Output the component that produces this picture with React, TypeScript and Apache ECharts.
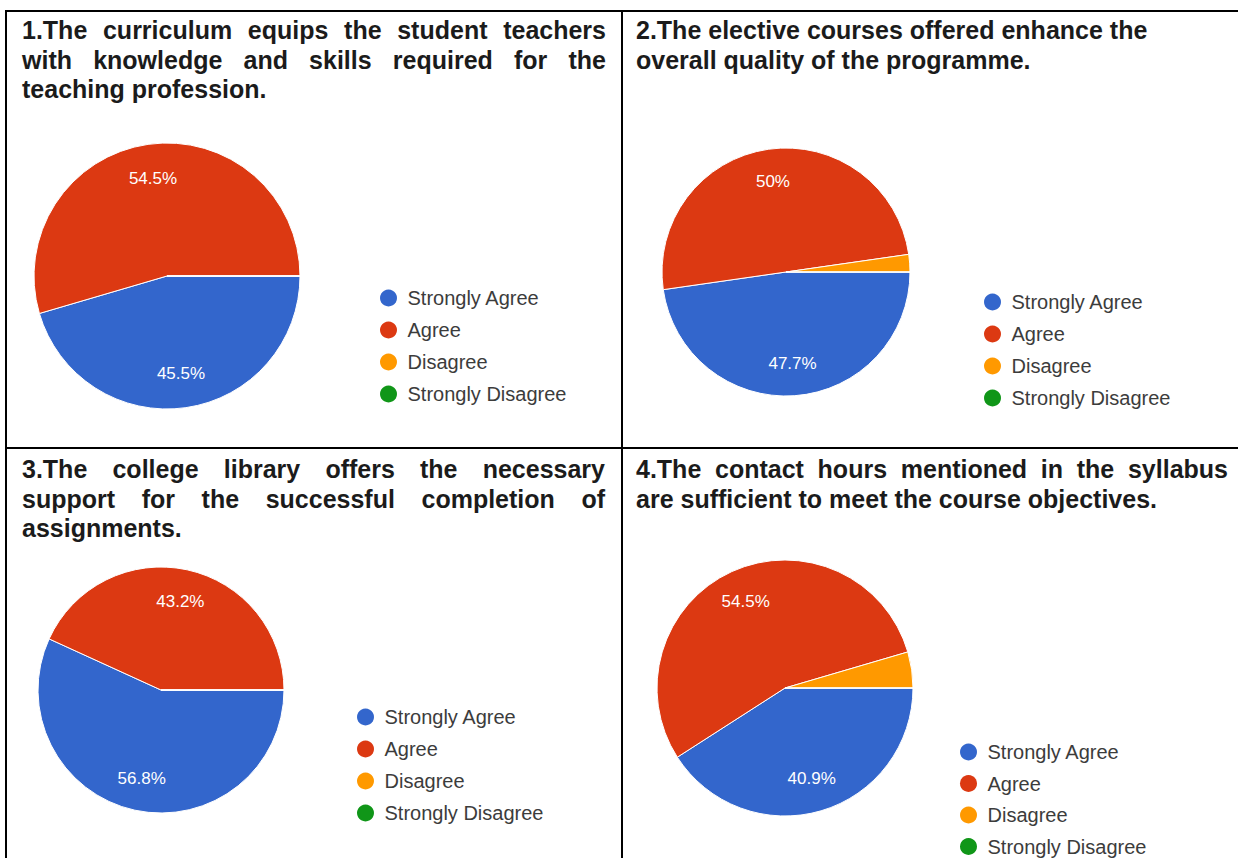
import React, { useEffect, useRef } from 'react';
import * as echarts from 'echarts';

// ---------- data ----------
const CATEGORIES = ['Strongly Agree', 'Agree', 'Disagree', 'Strongly Disagree'];
const COLORS = ['#3366cc', '#dc3912', '#ff9900', '#109618'];

const Q1_COUNTS = [20, 24, 0, 0];
const Q2_COUNTS = [21, 22, 1, 0];
const Q3_COUNTS = [25, 19, 0, 0];
const Q4_COUNTS = [18, 24, 2, 0];

const Q1_TITLE = [
  '1.The curriculum equips the student teachers',
  'with knowledge and skills required for the',
  'teaching profession.',
];
const Q2_TITLE = [
  '2.The elective courses offered enhance the',
  'overall quality of the programme.',
];
const Q3_TITLE = [
  '3.The college library offers the necessary',
  'support for the successful completion of',
  'assignments.',
];
const Q4_TITLE = [
  '4.The contact hours mentioned in the syllabus',
  'are sufficient to meet the course objectives.',
];

// ---------- layout ----------
const TITLE_SIZE = 25;
const TITLE_FAMILY = '"Liberation Sans", Arial, Helvetica, sans-serif';
const TITLE_FONT = `bold ${TITLE_SIZE}px ${TITLE_FAMILY}`;
const TITLE_LINE_GAP = 29.5;
const LABEL_RATIO = 0.74;

const PANELS = [
  {
    counts: Q1_COUNTS, title: Q1_TITLE, justify: [true, true, false],
    x0: 22, x1: 606, y0: 30, center: [167, 276], r: 133, legendLeft: 380, legendTop: 288, legendGap: 12,
  },
  {
    counts: Q2_COUNTS, title: Q2_TITLE, justify: [false, false],
    x0: 636, x1: 1228, y0: 30, center: [786, 272], r: 124, legendLeft: 984, legendTop: 292, legendGap: 12,
  },
  {
    counts: Q3_COUNTS, title: Q3_TITLE, justify: [true, true, false],
    x0: 22, x1: 605, y0: 469, center: [161, 690], r: 123, legendLeft: 357, legendTop: 707, legendGap: 12,
  },
  {
    counts: Q4_COUNTS, title: Q4_TITLE, justify: [true, false],
    x0: 636, x1: 1228, y0: 469, center: [785, 688], r: 128, legendLeft: 960, legendTop: 742, legendGap: 11.5,
  },
];

function buildTitleElements(ctx: CanvasRenderingContext2D | null) {
  const measure = (s: string) => {
    if (!ctx) return s.length * TITLE_SIZE * 0.55;
    ctx.font = TITLE_FONT;
    return ctx.measureText(s).width;
  };
  const els: any[] = [];
  PANELS.forEach((p) => {
    p.title.forEach((line, li) => {
      const y = p.y0 + li * TITLE_LINE_GAP;
      const words = line.split(' ');
      if (!p.justify[li] || words.length < 2) {
        els.push({
          type: 'text', x: p.x0, y, silent: true,
          style: { text: line, font: TITLE_FONT, fill: '#1b1b1b', verticalAlign: 'middle', align: 'left' },
        });
        return;
      }
      const widths = words.map(measure);
      const total = widths.reduce((a, b) => a + b, 0);
      const gap = (p.x1 - p.x0 - total) / (words.length - 1);
      let x = p.x0;
      words.forEach((w, wi) => {
        els.push({
          type: 'text', x, y, silent: true,
          style: { text: w, font: TITLE_FONT, fill: '#1b1b1b', verticalAlign: 'middle', align: 'left' },
        });
        x += widths[wi] + gap;
      });
    });
  });
  return els;
}

function borderElements() {
  const stroke = { stroke: '#000', lineWidth: 2 };
  return [
    { type: 'line', shape: { x1: 5, y1: 11, x2: 1238, y2: 11 }, style: stroke, silent: true },
    { type: 'line', shape: { x1: 6, y1: 10, x2: 6, y2: 858 }, style: stroke, silent: true },
    { type: 'line', shape: { x1: 622, y1: 10, x2: 622, y2: 858 }, style: stroke, silent: true },
    { type: 'line', shape: { x1: 5, y1: 448, x2: 1238, y2: 448 }, style: stroke, silent: true },
  ];
}

export default function App() {
  const ref = useRef<HTMLDivElement>(null);

  useEffect(() => {
    if (!ref.current) return;
    const chart = echarts.init(ref.current, undefined, { renderer: 'svg' });
    const canvas = document.createElement('canvas');
    const ctx = canvas.getContext('2d');

    const series: any[] = [];
    PANELS.forEach((p) => {
      const total = p.counts.reduce((a, b) => a + b, 0);
      const data = CATEGORIES.map((name, i) => ({ name, value: p.counts[i], itemStyle: { color: COLORS[i] } }));
      series.push({
        type: 'pie',
        center: p.center,
        radius: [0, p.r],
        startAngle: 0,
        clockwise: true,
        avoidLabelOverlap: false,
        label: { show: false },
        labelLine: { show: false },
        itemStyle: { borderColor: '#ffffff', borderWidth: 1 },
        emphasis: { disabled: true },
        data,
      });
      // transparent companion ring used only to place the percentage labels
      const r0 = 2 * (LABEL_RATIO * p.r - 3) - p.r;
      series.push({
        type: 'pie',
        center: p.center,
        radius: [r0, p.r],
        startAngle: 0,
        clockwise: true,
        silent: true,
        avoidLabelOverlap: false,
        legendHoverLink: false,
        z: 5,
        itemStyle: { color: 'rgba(0,0,0,0)', borderWidth: 0 },
        emphasis: { disabled: true },
        labelLine: { show: false },
        label: {
          show: true,
          position: 'inside',
          color: '#ffffff',
          fontSize: 17,
          fontFamily: '"Liberation Sans", Arial, sans-serif',
          formatter: (prm: any) => {
            const pct = Math.round((prm.value / total) * 1000) / 10;
            return pct >= 5 ? `${pct}%` : '';
          },
        },
        data: CATEGORIES.map((name, i) => ({ name, value: p.counts[i] })),
      });
    });

    const legend = PANELS.map((p) => ({
      orient: 'vertical',
      left: p.legendLeft,
      top: p.legendTop,
      height: 140,
      padding: 0,
      icon: 'circle',
      itemWidth: 28,
      itemHeight: 17,
      itemGap: p.legendGap,
      selectedMode: false,
      itemStyle: { borderWidth: 0 },
      textStyle: { fontSize: 20, lineHeight: 20, color: '#3c3c3c', fontFamily: '"Liberation Sans", Arial, sans-serif' },
      data: CATEGORIES.map((name, i) => ({ name, itemStyle: { color: COLORS[i], borderWidth: 0 } })),
    }));

    chart.setOption({
      animation: false,
      backgroundColor: '#ffffff',
      legend,
      series,
      graphic: [...borderElements(), ...buildTitleElements(ctx)],
    });

    return () => chart.dispose();
  }, []);

  return (
    <div
      ref={ref}
      style={{ position: 'absolute', left: 0, top: 0, width: 1238, height: 858, background: '#fff' }}
    />
  );
}
